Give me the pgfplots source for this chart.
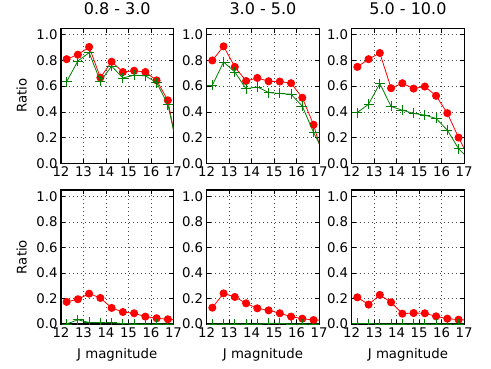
\documentclass[border=0pt]{standalone}
\usepackage{pgfplots}
\pgfplotsset{compat=1.18}
\usepackage{fontspec}
\setmainfont{DejaVu Sans}
\definecolor{mplgreen}{RGB}{0,128,0}
\pgfplotsset{
  panel/.style={
    scale only axis, width=112.5pt,
    xmin=12, xmax=17, ymin=0, ymax=1.05,
    xtick={12,13,14,15,16,17}, ytick={0,0.2,0.4,0.6,0.8,1.0},
    yticklabel style={/pgf/number format/.cd, fixed, fixed zerofill, precision=1},
    /pgf/number format/assume math mode=true,
    tick label style={font=\fontsize{13.3}{16}\selectfont},
    label style={font=\fontsize{13.3}{16}\selectfont},
    title style={font=\fontsize{16}{19}\selectfont, at={(axis description cs:0.5,1)}, anchor=base, yshift=7.6pt},
    grid=major, major grid style={black!70, line width=0.55pt, dash pattern=on 1pt off 3pt},
    tick align=inside, tick pos=both, major tick length=4.4pt,
    every tick/.style={black, line width=0.7pt},
    axis line style={line width=1.2pt},
    clip marker paths=true,
    anchor=south west,
    ylabel style={at={(axis description cs:-0.272,0.5)}, anchor=south, rotate=0},
    xlabel style={at={(axis description cs:0.5,0)}, anchor=base, yshift=-34pt},
  },
  rser/.style={color=red, line width=0.8pt, mark=*, mark size=3.6pt, mark options={fill=red, draw=red}},
  gser/.style={color=mplgreen, line width=0.8pt, mark=+, mark size=5pt, mark options={line width=0.8pt}},
}
\begin{document}
\begin{tikzpicture}
\useasboundingbox (0pt,0pt) rectangle (491pt,368pt);
% row 1
\begin{axis}[panel, at={(61pt,204.7pt)}, height=135pt, title={0.8 - 3.0}, ylabel={Ratio}]
\addplot[rser] coordinates {(12.25,0.81)(12.75,0.845)(13.25,0.905)(13.75,0.667)(14.25,0.79)(14.75,0.71)(15.25,0.72)(15.75,0.71)(16.25,0.645)(16.75,0.49)(17.25,0.03)};
\addplot[gser] coordinates {(12.25,0.635)(12.75,0.796)(13.25,0.86)(13.75,0.638)(14.25,0.755)(14.75,0.664)(15.25,0.685)(15.75,0.68)(16.25,0.628)(16.75,0.457)(17.25,0.06)};
\end{axis}
\begin{axis}[panel, at={(206.7pt,204.7pt)}, height=135pt, title={3.0 - 5.0}]
\addplot[rser] coordinates {(12.25,0.80)(12.75,0.91)(13.25,0.75)(13.75,0.64)(14.25,0.664)(14.75,0.638)(15.25,0.636)(15.75,0.623)(16.25,0.51)(16.75,0.30)(17.25,0.0)};
\addplot[gser] coordinates {(12.25,0.607)(12.75,0.788)(13.25,0.71)(13.75,0.58)(14.25,0.594)(14.75,0.55)(15.25,0.543)(15.75,0.537)(16.25,0.444)(16.75,0.24)(17.25,0.07)};
\end{axis}
\begin{axis}[panel, at={(351.7pt,204.7pt)}, height=135pt, title={5.0 - 10.0}]
\addplot[rser] coordinates {(12.25,0.75)(12.75,0.81)(13.25,0.858)(13.75,0.584)(14.25,0.623)(14.75,0.581)(15.25,0.597)(15.75,0.525)(16.25,0.39)(16.75,0.20)(17.25,0.03)};
\addplot[gser] coordinates {(12.25,0.395)(12.75,0.46)(13.25,0.62)(13.75,0.442)(14.25,0.413)(14.75,0.388)(15.25,0.375)(15.75,0.349)(16.25,0.258)(16.75,0.114)(17.25,0.026)};
\end{axis}
% row 2
\begin{axis}[panel, at={(61pt,44pt)}, height=134pt, ylabel={Ratio}, xlabel={J magnitude}]
\addplot[rser] coordinates {(12.25,0.173)(12.75,0.194)(13.25,0.238)(13.75,0.204)(14.25,0.126)(14.75,0.094)(15.25,0.084)(15.75,0.058)(16.25,0.045)(16.75,0.037)(17.25,0.03)};
\addplot[gser] coordinates {(12.25,0.0)(12.75,0.033)(13.25,0.012)(13.75,0.01)(14.25,0.01)(14.75,0.003)(15.25,0.0)(15.75,0.0)(16.25,0.0)(16.75,0.0)(17.25,0.0)};
\end{axis}
\begin{axis}[panel, at={(206.7pt,44pt)}, height=134pt, xlabel={J magnitude}]
\addplot[rser] coordinates {(12.25,0.128)(12.75,0.24)(13.25,0.212)(13.75,0.162)(14.25,0.123)(14.75,0.107)(15.25,0.084)(15.75,0.058)(16.25,0.042)(16.75,0.031)(17.25,0.03)};
\addplot[gser] coordinates {(12.25,0.0)(12.75,0.0)(13.25,0.0)(13.75,0.0)(14.25,0.0)(14.75,0.005)(15.25,0.005)(15.75,0.0)(16.25,0.0)(16.75,0.0)(17.25,0.0)};
\end{axis}
\begin{axis}[panel, at={(351.7pt,44pt)}, height=134pt, xlabel={J magnitude}]
\addplot[rser] coordinates {(12.25,0.209)(12.75,0.152)(13.25,0.228)(13.75,0.17)(14.25,0.081)(14.75,0.086)(15.25,0.084)(15.75,0.06)(16.25,0.042)(16.75,0.034)(17.25,0.03)};
\addplot[gser] coordinates {(12.25,0.005)(12.75,0.003)(13.25,0.0)(13.75,0.0)(14.25,0.0)(14.75,0.0)(15.25,0.0)(15.75,0.0)(16.25,0.0)(16.75,0.0)(17.25,0.0)};
\end{axis}
\end{tikzpicture}
\end{document}
